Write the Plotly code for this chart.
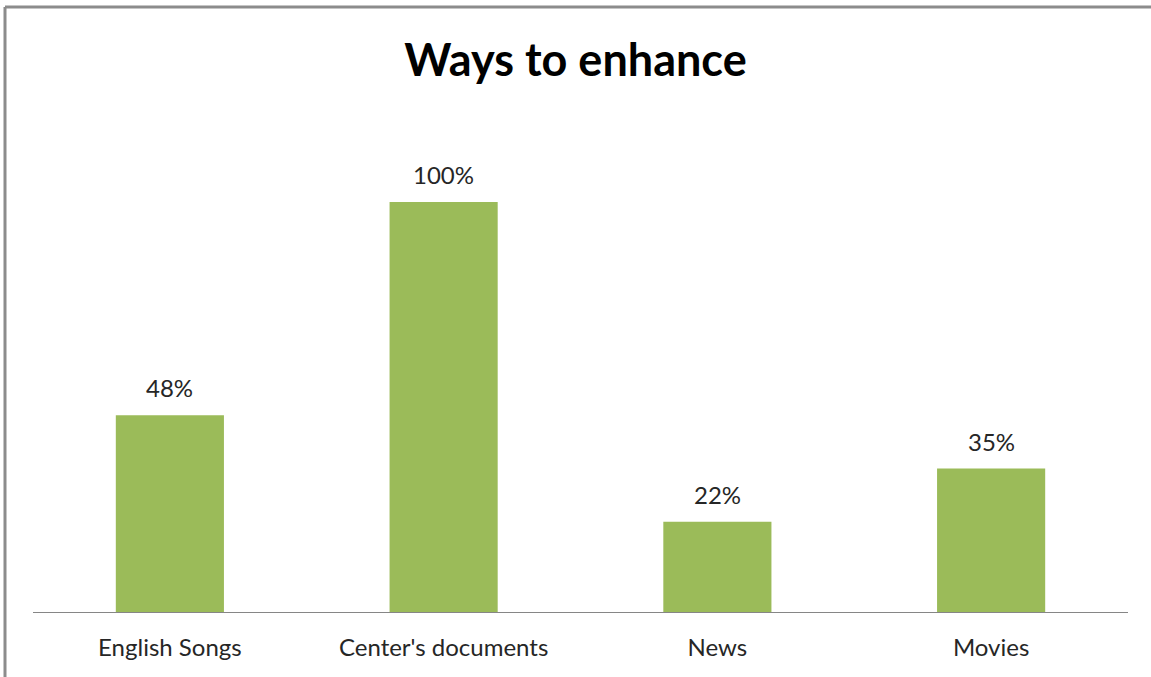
import plotly.graph_objects as go

categories = ["English Songs", "Center's documents", "News", "Movies"]
values = [0.48, 1.00, 0.22, 0.35]
value_labels = ["48%", "100%", "22%", "35%"]

W, H = 1151, 677
M_L, M_R, M_T, M_B = 33, 23, 120, 65
Y_MAX = 1.2
FONT = "Lato, 'Open Sans', sans-serif"

fig = go.Figure()
fig.add_trace(go.Bar(
    x=categories,
    y=values,
    marker=dict(color="#9BBB59", line=dict(width=0)),
    width=0.395,
    hoverinfo="skip",
))

# value labels above each bar
for c, v, t in zip(categories, values, value_labels):
    fig.add_annotation(
        x=c, y=v, text=t, showarrow=False,
        yanchor="bottom", yshift=11,
        font=dict(family=FONT, size=24, color="#262626"),
    )

# chart frame (top and left edges)
plot_w = W - M_L - M_R
plot_h = H - M_T - M_B
def px_x(px):
    return (px - M_L) / plot_w
def px_y(py):
    return (H - M_B - py) / plot_h

frame = dict(color="#8C8C8C", width=3)
fig.add_shape(type="line", xref="paper", yref="paper",
              x0=px_x(5), x1=px_x(W + 5), y0=px_y(7), y1=px_y(7), line=frame)
fig.add_shape(type="line", xref="paper", yref="paper",
              x0=px_x(5), x1=px_x(5), y0=px_y(7), y1=px_y(H + 5), line=frame)

fig.update_layout(
    width=W, height=H,
    margin=dict(l=M_L, r=M_R, t=M_T, b=M_B),
    paper_bgcolor="white",
    plot_bgcolor="white",
    showlegend=False,
    title=dict(
        text="<b>Ways to enhance</b>",
        x=0.5, xanchor="center",
        y=1 - 60 / H, yanchor="middle",
        font=dict(family=FONT, size=45, color="#000000"),
    ),
    xaxis=dict(
        showline=True, linecolor="#868686", linewidth=1,
        showgrid=False, ticks="", zeroline=False,
        tickfont=dict(family=FONT, size=24, color="#262626"),
        ticklabelstandoff=14,
    ),
    yaxis=dict(
        range=[0, Y_MAX], visible=False, showgrid=False, zeroline=False,
    ),
)

fig.write_html("out.html")
